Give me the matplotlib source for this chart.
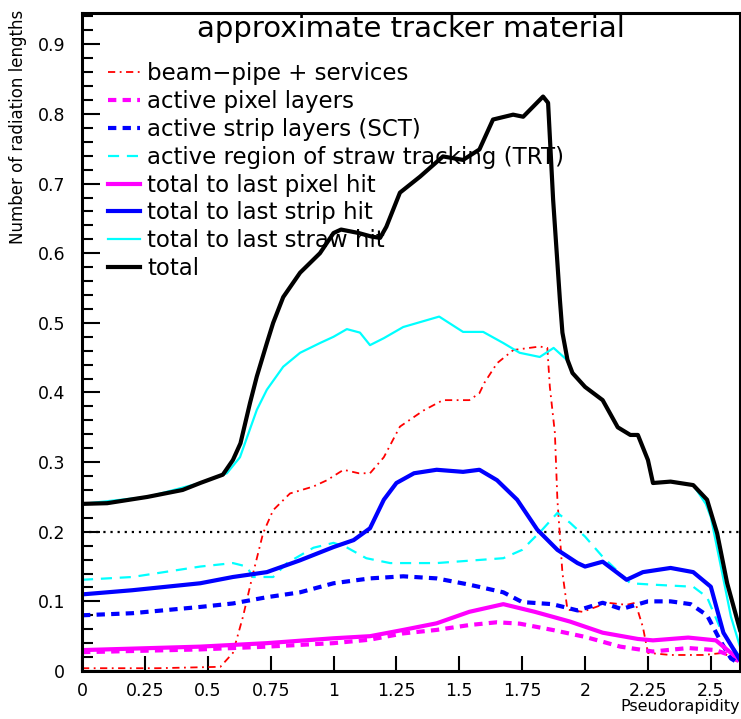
import matplotlib
matplotlib.use("Agg")
import matplotlib.pyplot as plt
from matplotlib.ticker import MultipleLocator, FuncFormatter

# ---------------- data ----------------
eta_total = [0, 0.1, 0.26, 0.4, 0.47, 0.56, 0.6, 0.63, 0.668, 0.695, 0.735, 0.76, 0.8, 0.867, 0.946, 1.0, 1.03, 1.1, 1.15, 1.185, 1.21, 1.264, 1.344, 1.435, 1.515, 1.58, 1.634, 1.714, 1.754, 1.833, 1.853, 1.873, 1.9, 1.91, 1.93, 1.95, 2.0, 2.07, 2.13, 2.18, 2.21, 2.25, 2.27, 2.34, 2.43, 2.485, 2.525, 2.565, 2.6, 2.616]
total = [0.24, 0.241, 0.25, 0.26, 0.27, 0.282, 0.303, 0.327, 0.385, 0.423, 0.471, 0.5, 0.537, 0.572, 0.6, 0.629, 0.634, 0.629, 0.624, 0.622, 0.638, 0.687, 0.71, 0.739, 0.734, 0.749, 0.792, 0.799, 0.796, 0.825, 0.816, 0.677, 0.533, 0.486, 0.447, 0.428, 0.408, 0.389, 0.35, 0.339, 0.339, 0.303, 0.27, 0.272, 0.267, 0.246, 0.198, 0.126, 0.08, 0.059]

eta_straw = [0, 0.26, 0.47, 0.56, 0.576, 0.628, 0.695, 0.735, 0.8, 0.867, 0.946, 1.0, 1.053, 1.105, 1.145, 1.2, 1.277, 1.42, 1.515, 1.595, 1.675, 1.74, 1.82, 1.875, 1.927, 1.95, 2.0, 2.07, 2.13, 2.18, 2.21, 2.25, 2.27, 2.34, 2.43, 2.48, 2.5, 2.54, 2.58, 2.616]
straw_total = [0.24, 0.25, 0.27, 0.282, 0.284, 0.307, 0.375, 0.404, 0.437, 0.457, 0.471, 0.48, 0.491, 0.486, 0.468, 0.478, 0.494, 0.509, 0.487, 0.487, 0.471, 0.457, 0.451, 0.464, 0.447, 0.428, 0.408, 0.389, 0.35, 0.339, 0.339, 0.303, 0.27, 0.272, 0.267, 0.24, 0.221, 0.15, 0.078, 0.035]

eta_bp = [0, 0.3, 0.55, 0.6, 0.64, 0.68, 0.72, 0.76, 0.827, 0.92, 0.974, 1.04, 1.1, 1.145, 1.2, 1.264, 1.357, 1.435, 1.54, 1.58, 1.6, 1.65, 1.715, 1.82, 1.85, 1.86, 1.88, 1.89, 1.91, 1.93, 1.99, 2.09, 2.165, 2.2, 2.23, 2.25, 2.34, 2.47, 2.55, 2.616]
beampipe = [0.004, 0.004, 0.006, 0.026, 0.078, 0.14, 0.198, 0.231, 0.255, 0.265, 0.274, 0.289, 0.284, 0.284, 0.307, 0.351, 0.374, 0.389, 0.389, 0.399, 0.414, 0.442, 0.461, 0.466, 0.464, 0.408, 0.342, 0.246, 0.141, 0.088, 0.085, 0.098, 0.095, 0.098, 0.063, 0.026, 0.023, 0.023, 0.026, 0.011]

eta_trt = [0, 0.2, 0.47, 0.6, 0.655, 0.68, 0.76, 0.815, 0.92, 1.0, 1.05, 1.13, 1.225, 1.41, 1.675, 1.75, 1.83, 1.89, 1.94, 2.0, 2.07, 2.18, 2.27, 2.43, 2.485, 2.54, 2.616]
trt_active = [0.131, 0.135, 0.15, 0.155, 0.15, 0.135, 0.135, 0.155, 0.177, 0.184, 0.178, 0.162, 0.155, 0.155, 0.162, 0.174, 0.203, 0.227, 0.213, 0.193, 0.164, 0.126, 0.124, 0.121, 0.106, 0.059, 0.02]

eta_strip = [0, 0.2, 0.47, 0.6, 0.735, 0.867, 1.0, 1.08, 1.145, 1.2, 1.25, 1.32, 1.41, 1.515, 1.58, 1.65, 1.73, 1.81, 1.89, 1.97, 2.0, 2.07, 2.165, 2.23, 2.34, 2.43, 2.5, 2.55, 2.616]
strip_total = [0.11, 0.116, 0.126, 0.135, 0.142, 0.159, 0.178, 0.188, 0.205, 0.246, 0.27, 0.284, 0.289, 0.286, 0.289, 0.274, 0.246, 0.203, 0.174, 0.155, 0.15, 0.157, 0.131, 0.142, 0.148, 0.142, 0.121, 0.055, 0.016]

eta_sct = [0, 0.2, 0.47, 0.6, 0.735, 0.867, 1.0, 1.145, 1.277, 1.41, 1.54, 1.675, 1.75, 1.87, 1.97, 2.07, 2.145, 2.25, 2.34, 2.42, 2.485, 2.54, 2.58, 2.616]
sct_active = [0.08, 0.083, 0.092, 0.097, 0.106, 0.113, 0.126, 0.133, 0.136, 0.133, 0.124, 0.113, 0.099, 0.096, 0.087, 0.098, 0.089, 0.1, 0.1, 0.096, 0.08, 0.042, 0.018, 0.01]

eta_pixtot = [0, 0.47, 0.735, 1.0, 1.145, 1.277, 1.41, 1.54, 1.675, 1.8, 1.94, 2.07, 2.21, 2.27, 2.41, 2.52, 2.58, 2.616]
pixel_total = [0.030, 0.035, 0.04, 0.047, 0.05, 0.059, 0.0685, 0.085, 0.096, 0.085, 0.071, 0.055, 0.046, 0.044, 0.048, 0.044, 0.026, 0.017]

eta_pix = [0, 0.47, 0.735, 1.0, 1.145, 1.277, 1.41, 1.54, 1.65, 1.74, 1.87, 2.0, 2.14, 2.27, 2.41, 2.52, 2.58, 2.616]
pixel_active = [0.027, 0.031, 0.035, 0.04, 0.045, 0.054, 0.059, 0.066, 0.07, 0.068, 0.059, 0.049, 0.035, 0.028, 0.033, 0.03, 0.022, 0.013]

labels = ["beam\u2212pipe + services", "active pixel layers", "active strip layers (SCT)",
          "active region of straw tracking (TRT)", "total to last pixel hit",
          "total to last strip hit", "total to last straw hit", "total"]
title = "approximate tracker material"
xlabel = "Pseudorapidity"
ylabel = "Number of radiation lengths"

# ---------------- figure ----------------
plt.rcParams['font.family'] = ['DejaVu Sans']
fig = plt.figure(figsize=(7.41, 7.19), dpi=100)
ax = fig.add_axes([82/741, 1-671/719, 658/741, 658/719])

ax.axhline(0.2, color='black', ls=(0, (1, 2.2)), lw=1.6, zorder=1)

l_bp, = ax.plot(eta_bp, beampipe, color='#ff0000', lw=1.3, dashes=(4, 2.5, 1, 2.5))
l_pix, = ax.plot(eta_pix, pixel_active, color='#ff00ff', lw=3, dashes=(2, 1.5))
l_sct, = ax.plot(eta_sct, sct_active, color='#0000ff', lw=3, dashes=(2, 1.5))
l_trt, = ax.plot(eta_trt, trt_active, color='#00ffff', lw=1.6, dashes=(5, 3.5))
l_pixt, = ax.plot(eta_pixtot, pixel_total, color='#ff00ff', lw=3)
l_stript, = ax.plot(eta_strip, strip_total, color='#0000ff', lw=3)
l_strawt, = ax.plot(eta_straw, straw_total, color='#00ffff', lw=1.6)
l_tot, = ax.plot(eta_total, total, color='black', lw=3)

ax.set_xlim(0, 2.616)
ax.set_ylim(0, 0.945)

ax.xaxis.set_major_locator(MultipleLocator(0.25))
ax.yaxis.set_major_locator(MultipleLocator(0.1))
ax.yaxis.set_minor_locator(MultipleLocator(0.02))
fmt = FuncFormatter(lambda v, p: ('%g' % round(v, 3)))
ax.xaxis.set_major_formatter(fmt)
ax.yaxis.set_major_formatter(fmt)
ax.tick_params(axis='both', which='both', direction='in', top=False, right=False, color='black')
ax.tick_params(axis='y', which='major', length=13, width=1.5, labelsize=12.5, pad=12)
ax.tick_params(axis='y', which='minor', length=8, width=1.5)
ax.tick_params(axis='x', which='major', length=11, width=1.5, labelsize=12.5, pad=8)
for s in ax.spines.values():
    s.set_linewidth(2.2)
    s.set_color('black')

ax.text(0.5, 0.976, title, transform=ax.transAxes, ha='center', va='center', fontsize=21)
fig.text(740/741, 1-706/719, xlabel, ha='right', va='center', fontsize=11.5)
fig.text(18/741, 1-10/719, ylabel, ha='center', va='top', rotation=90, fontsize=12)

handles = [l_bp, l_pix, l_sct, l_trt, l_pixt, l_stript, l_strawt, l_tot]
leg = ax.legend(handles, labels, loc='upper left', bbox_to_anchor=(0.0395, 0.925),
                frameon=False, fontsize=16.5, handlelength=1.4, handletextpad=0.3,
                labelspacing=0.21, borderpad=0, borderaxespad=0)

fig.savefig("out.png", dpi=100)
